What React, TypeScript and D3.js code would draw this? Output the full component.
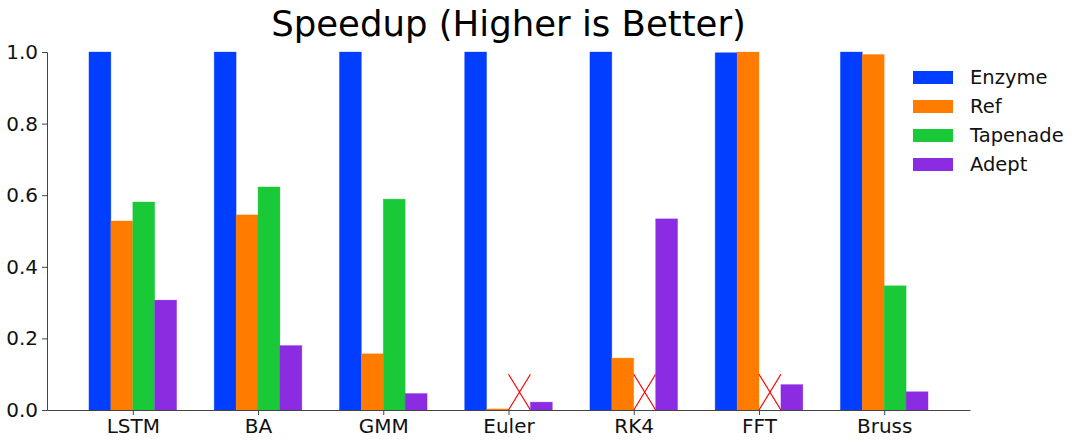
import React, { useEffect, useRef } from "react";
import * as d3 from "d3";

const categories = ["LSTM", "BA", "GMM", "Euler", "RK4", "FFT", "Bruss"];
const seriesNames = ["Enzyme", "Ref", "Tapenade", "Adept"];
const colors = ["#023eff", "#ff7c00", "#1ac938", "#8b2be2"];

// null = no result (drawn as a red cross)
const enzyme = [1.0, 1.0, 1.0, 1.0, 1.0, 0.998, 1.0];
const ref = [0.528, 0.545, 0.157, 0.003, 0.145, 1.0, 0.993];
const tapenade: (number | null)[] = [0.581, 0.623, 0.589, null, null, null, 0.347];
const adept = [0.307, 0.18, 0.046, 0.022, 0.534, 0.071, 0.051];

const yTicks = [0, 0.2, 0.4, 0.6, 0.8, 1.0];

const App = () => {
  const svgRef = useRef<SVGSVGElement>(null);

  useEffect(() => {
    const svg = d3.select(svgRef.current);
    svg.selectAll("*").remove();

    const width = 1080;
    const height = 446;
    const left = 47;
    const right = 970;
    const top = 52;
    const bottom = 410;
    const font = "DejaVu Sans";

    svg.attr("width", width).attr("height", height);

    const series = [enzyme, ref, tapenade, adept];
    const n = series.length;
    const groupW = 0.7;
    const barW = groupW / n;

    // bars span [-0.35, 6.35], matplotlib adds 5% margins
    const lo = -groupW / 2;
    const hi = categories.length - 1 + groupW / 2;
    const pad = (hi - lo) * 0.05;
    const x = d3.scaleLinear().domain([lo - pad, hi + pad]).range([left, right]);
    const y = d3.scaleLinear().domain([0, 1]).range([bottom, top]);

    // Title
    svg.append("text")
      .attr("x", (left + right) / 2)
      .attr("y", 36)
      .attr("text-anchor", "middle")
      .attr("font-family", font)
      .attr("font-size", 35.5)
      .text("Speedup (Higher is Better)");

    // Bars
    series.forEach((vals, s) => {
      vals.forEach((v, i) => {
        const x0 = x(i - groupW / 2 + s * barW);
        const x1 = x(i - groupW / 2 + (s + 1) * barW);
        if (v === null) {
          const yTop = y(0.1);
          svg.append("path")
            .attr("d", `M${x0},${y(0)}L${x1},${yTop}M${x0},${yTop}L${x1},${y(0)}`)
            .attr("stroke", "#ff0000")
            .attr("stroke-width", 1.2)
            .attr("fill", "none");
          return;
        }
        svg.append("rect")
          .attr("x", x0)
          .attr("y", y(v))
          .attr("width", x1 - x0)
          .attr("height", y(0) - y(v))
          .attr("fill", colors[s])
          .attr("stroke", colors[s])
          .attr("stroke-opacity", 0.4)
          .attr("stroke-width", 0.8);
      });
    });

    // Y axis
    const yAxis = svg.append("g")
      .attr("transform", `translate(${left},0)`)
      .call(d3.axisLeft(y).tickValues(yTicks).tickFormat(d3.format(".1f")).tickSize(5).tickPadding(4));
    yAxis.select(".domain").attr("stroke", "#444").attr("stroke-width", 1);
    yAxis.selectAll(".tick line").attr("stroke", "#444");
    yAxis.selectAll("text").attr("font-family", font).attr("font-size", 20).attr("fill", "#111");

    // X axis
    const xAxis = svg.append("g")
      .attr("transform", `translate(0,${bottom})`)
      .call(d3.axisBottom(x).tickValues(d3.range(categories.length)).tickFormat((d) => categories[d as number]).tickSize(5).tickPadding(4).tickSizeOuter(0));
    xAxis.select(".domain").attr("stroke", "#444").attr("stroke-width", 1);
    xAxis.selectAll(".tick line").attr("stroke", "#444");
    xAxis.selectAll("text").attr("font-family", font).attr("font-size", 20).attr("fill", "#111");

    // Legend
    const legend = svg.append("g").attr("transform", "translate(913,77)");
    seriesNames.forEach((name, s) => {
      const g = legend.append("g").attr("transform", `translate(0,${s * 29})`);
      g.append("rect")
        .attr("x", 0)
        .attr("y", -6)
        .attr("width", 40)
        .attr("height", 13)
        .attr("fill", colors[s]);
      g.append("text")
        .attr("x", 57)
        .attr("y", 7)
        .attr("font-family", font)
        .attr("font-size", 19.5)
        .attr("fill", "#111")
        .text(name);
    });
  }, []);

  return <svg ref={svgRef} style={{ position: "absolute", left: 0, top: 0 }}></svg>;
};

export default App;
